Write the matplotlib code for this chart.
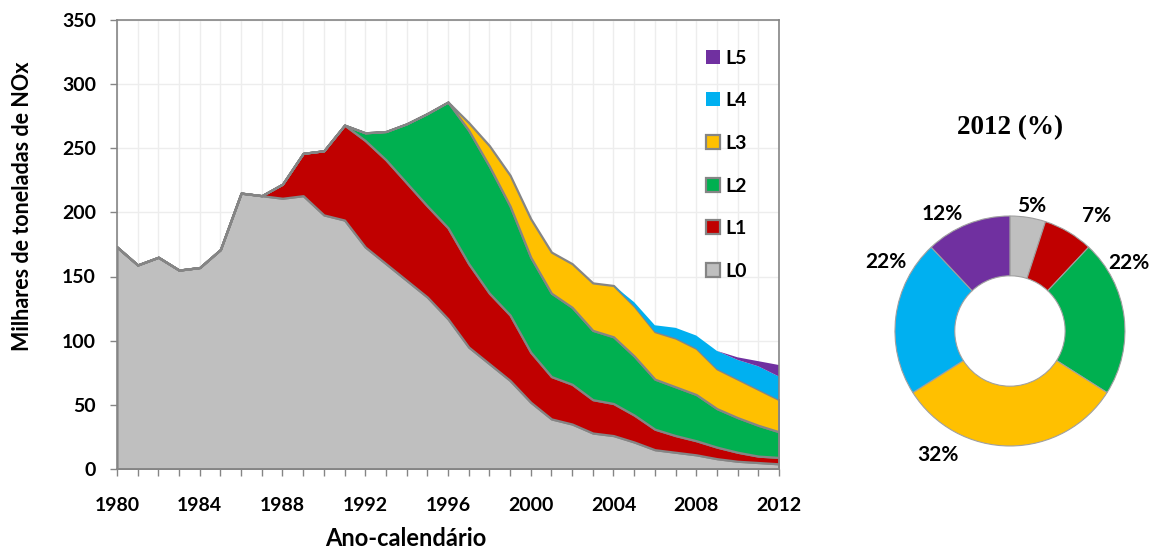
import matplotlib.pyplot as plt
import numpy as np

# NOx emissions (thousand tonnes) by vehicle phase, 1980-2012
years = np.arange(1980, 2013)
labels = ['L0', 'L1', 'L2', 'L3', 'L4', 'L5']
l0 = [173, 159, 165, 155, 157, 171, 215, 213, 211, 213, 198, 194, 173, 160, 147, 134,
      117, 95, 82, 69, 52, 39, 35, 28, 26, 21, 15, 13, 11, 8, 6, 5, 4]
l1 = [0, 0, 0, 0, 0, 0, 0, 0, 11, 33, 50, 74, 83, 81, 76, 71,
      71, 65, 55, 51, 39, 33, 31, 26, 25, 21, 16, 13, 11, 9, 7, 5, 5]
l2 = [0, 0, 0, 0, 0, 0, 0, 0, 0, 0, 0, 0, 6, 22, 46, 72,
      98, 104, 99, 85, 74, 65, 60, 54, 52, 46, 39, 38, 36, 30, 27, 24, 20]
l3 = [0, 0, 0, 0, 0, 0, 0, 0, 0, 0, 0, 0, 0, 0, 0, 0,
      0, 6, 16, 24, 30, 32, 34, 37, 40, 39, 37, 38, 36, 31, 30, 28, 25]
l4 = [0, 0, 0, 0, 0, 0, 0, 0, 0, 0, 0, 0, 0, 0, 0, 0,
      0, 0, 0, 0, 0, 0, 0, 0, 0, 3, 5, 8, 10, 14, 15, 18, 18]
l5 = [0, 0, 0, 0, 0, 0, 0, 0, 0, 0, 0, 0, 0, 0, 0, 0,
      0, 0, 0, 0, 0, 0, 0, 0, 0, 0, 0, 0, 0, 0, 2, 4, 9]

# 2012 shares (%)
share_2012 = [5, 7, 22, 32, 22, 12]

colors = ['#BFBFBF', '#C00000', '#00B050', '#FFC000', '#00B0F0', '#7030A0']
edge = '#858585'

plt.rcParams['font.family'] = ['Lato', 'DejaVu Sans']

fig = plt.figure(figsize=(11.58, 5.53), dpi=100)
ax = fig.add_axes([0.101, 0.152, 0.5717, 0.812])

polys = ax.stackplot(years, l0, l1, l2, l3, l4, l5, colors=colors, labels=labels)
for i, p in enumerate(polys):
    if i < 4:
        p.set_edgecolor(edge)
        p.set_linewidth(1.6)
    else:
        p.set_edgecolor('none')

ax.set_xlim(1980, 2012)
ax.set_ylim(0, 350)
ax.set_xticks(np.arange(1980, 2013, 4))
ax.set_xticks(years, minor=True)
ax.set_yticks(np.arange(0, 351, 50))
ax.grid(True, which='both', color='#EDEDED', linewidth=1.0)
ax.set_axisbelow(True)
for s in ax.spines.values():
    s.set_color(edge)
    s.set_linewidth(1.2)
ax.tick_params(which='both', direction='out', length=5, color=edge, width=1.0)
ax.tick_params(axis='x', which='major', pad=15)
ax.tick_params(axis='y', pad=10)
for lab in ax.get_xticklabels() + ax.get_yticklabels():
    lab.set_fontsize(14)
    lab.set_fontweight('bold')

ax.set_xlabel('Ano-calendário', fontsize=17, fontweight='bold')
ax.xaxis.label.set_va('center')
ax.xaxis.set_label_coords(0.436, -0.156)
ax.set_ylabel('Milhares de toneladas de NOx', fontsize=15.5, fontweight='bold')
ax.yaxis.label.set_va('center')
ax.yaxis.set_label_coords(-0.142, 0.586)

h, l = ax.get_legend_handles_labels()
leg = ax.legend(h[::-1], l[::-1], loc='upper left', bbox_to_anchor=(0.863, 0.973),
                frameon=False, fontsize=14, handlelength=0.72, handleheight=0.72,
                handletextpad=0.3, labelspacing=1.32)
for t in leg.get_texts():
    t.set_fontweight('bold')

# donut for 2012
ax2 = fig.add_axes([0.7232, 0.0895, 0.2979, 0.6239])
wedges, _ = ax2.pie(share_2012, colors=colors, startangle=90, counterclock=False,
                    radius=1.0, wedgeprops=dict(width=0.52, edgecolor='#A0A0A0', linewidth=0.8))
ax2.set_xlim(-1.5, 1.5)
ax2.set_ylim(-1.5, 1.5)
ax2.set_aspect('equal')

# label placement: angle clockwise from top (deg), distance in radii
label_pos = [(9.8, 1.10), (37, 1.25), (60, 1.19), (210, 1.25), (299, 1.23), (330, 1.17)]
for v, (ang, r) in zip(share_2012, label_pos):
    a = np.deg2rad(ang)
    ax2.text(r * np.sin(a), r * np.cos(a), f'{v}%', ha='center', va='center',
             fontsize=15, fontweight='bold')

fig.text(0.872, 0.769, '2012 (%)', ha='center', va='center', fontsize=19.5,
         fontweight='bold', family='Liberation Serif')

fig.savefig('out.png', dpi=100)
